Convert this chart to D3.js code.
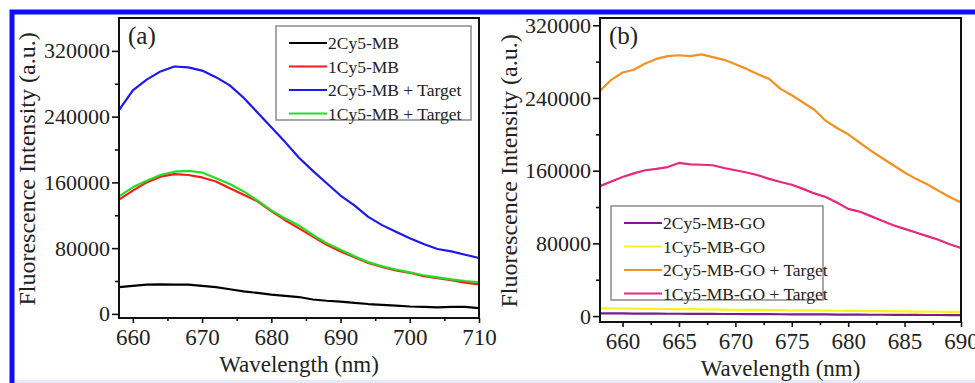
<!DOCTYPE html>
<html>
<head>
<meta charset="utf-8">
<script src="https://cdn.jsdelivr.net/npm/d3@7"></script>
</head>
<body style="margin:0; background:#fff">
<div id="chart"></div>
<script>
// ---- data, panel (a) ----
const wavelengthA = [658, 660, 662, 664, 666, 668, 670, 672, 674, 676, 678, 680, 682, 684,
                     686, 688, 690, 692, 694, 696, 698, 700, 702, 704, 706, 708, 710];
const mb2 = [32500, 34000, 35500, 36000, 35500, 35500, 34000, 32500, 30000, 27500, 25500, 23500, 22000, 20500,
             17500, 16000, 15000, 13500, 12000, 11000, 10000, 9000, 8500, 8000, 8500, 8500, 7000];
const mb1 = [139000, 150000, 160000, 167000, 170000, 169000, 166000, 161000, 153000, 145000, 137000, 125000, 114000, 104000,
             94000, 84000, 76000, 69000, 62000, 57000, 53000, 50000, 46000, 43500, 41000, 38000, 36000];
const mb2Target = [248000, 272000, 285000, 295000, 301000, 300000, 296000, 288000, 278000, 263000, 245000, 227000, 209000, 190000,
                   174000, 159000, 144000, 132000, 118000, 108000, 100000, 92000, 85000, 79000, 76000, 72000, 68000];
const mb1Target = [143000, 154000, 162000, 169000, 173000, 174000, 172000, 165000, 158000, 149000, 138000, 126000, 116000, 107500,
                   96000, 86000, 78000, 70000, 63000, 58000, 54000, 50500, 47000, 44500, 42000, 40000, 38500];
const namesA = ["2Cy5-MB", "1Cy5-MB", "2Cy5-MB + Target", "1Cy5-MB + Target"];
const colorsA = ["#000000", "#ff1a1a", "#1a1aee", "#22dd22"];

// ---- data, panel (b) ----
const wavelengthB = [658, 659, 660, 661, 662, 663, 664, 665, 666, 667, 668, 669, 670, 671, 672, 673, 674,
                     675, 676, 677, 678, 679, 680, 681, 682, 683, 684, 685, 686, 687, 688, 689, 690];
const go2 = [3000, 2900, 2900, 2800, 2800, 2700, 2600, 2600, 2500, 2500, 2400, 2300, 2300, 2200, 2200, 2100, 2000,
             2000, 1900, 1800, 1800, 1700, 1700, 1600, 1500, 1500, 1400, 1300, 1300, 1200, 1200, 1100, 1000];
const go1 = [8500, 8400, 8300, 8200, 8000, 7900, 7800, 7700, 7600, 7400, 7300, 7200, 7000, 6900, 6800, 6700, 6500,
             6400, 6300, 6200, 6000, 5900, 5800, 5600, 5500, 5400, 5200, 5100, 5000, 4900, 4800, 4700, 4600];
const go2Target = [248000, 260000, 268000, 271000, 278000, 283000, 286000, 287000, 286000, 288000, 285000, 282000, 277000, 272000, 266000, 261000, 250000,
                   243000, 235000, 227000, 215000, 207000, 200000, 191000, 182000, 174000, 166000, 158000, 151000, 145000, 138000, 131000, 125000];
const go1Target = [143000, 148000, 153000, 157000, 160500, 162000, 164000, 168500, 167000, 166500, 166000, 163000, 160500, 158000, 155000, 151000, 147500,
                   144500, 140000, 135000, 131000, 125000, 118000, 115000, 110000, 105000, 100000, 96000, 92000, 88000, 84000, 79000, 75000];
const namesB = ["2Cy5-MB-GO", "1Cy5-MB-GO", "2Cy5-MB-GO + Target", "1Cy5-MB-GO + Target"];
const colorsB = ["#7b1c8c", "#f7f21c", "#f39121", "#e6287e"];

// ---- tick values ----
const yMajor = [0, 80000, 160000, 240000, 320000];
const yMinor = [40000, 120000, 200000, 280000];
const xMajorA = [660, 670, 680, 690, 700, 710];
const xMinorA = [665, 675, 685, 695, 705];
const xMajorB = [660, 665, 670, 675, 680, 685, 690];
const xMinorB = [662.5, 667.5, 672.5, 677.5, 682.5, 687.5];

const width = 975;
const height = 383;
const serif = '"Liberation Serif", "Times New Roman", Times, serif';

const svg = d3.select('#chart')
    .append('svg')
    .attr('width', width)
    .attr('height', height)
    .style('display', 'block');

svg.append('rect').attr('width', width).attr('height', height).attr('fill', '#fff');

// blue frame around the figure
svg.append('rect')
    .attr('x', 12).attr('y', 12)
    .attr('width', 1000).attr('height', 400)
    .attr('fill', 'none')
    .attr('stroke', '#0d0dff')
    .attr('stroke-width', 5);
svg.append('rect')
    .attr('x', 15).attr('y', 380)
    .attr('width', width).attr('height', 3)
    .attr('fill', '#e8e8f7');

function drawPanel(p)
{
    const x = d3.scaleLinear().domain(p.xDomain).range([p.left, p.right]);
    const y = d3.scaleLinear().domain(p.yDomain).range([p.bottom, p.top]);

    const g = svg.append('g');

    // curves
    const line = d3.line()
        .x(d => x(d[0]))
        .y(d => y(d[1]));

    p.series.forEach((s, i) => {
        g.append('path')
            .datum(p.wavelength.map((w, j) => [w, s[j]]))
            .attr('fill', 'none')
            .attr('stroke', p.colors[i])
            .attr('stroke-width', 2.2)
            .attr('stroke-linejoin', 'round')
            .attr('d', line);
    });

    // axes
    const yAxis = g.append('g')
        .attr('transform', `translate(${p.left},0)`)
        .call(d3.axisLeft(y).tickValues(yMajor).tickSize(7).tickPadding(2).tickFormat(d3.format('d')));
    g.append('g')
        .attr('transform', `translate(${p.left},0)`)
        .call(d3.axisLeft(y).tickValues(yMinor).tickSize(4).tickFormat(''));

    const xAxis = g.append('g')
        .attr('transform', `translate(0,${p.bottom})`)
        .call(d3.axisBottom(x).tickValues(p.xMajor).tickSize(5).tickPadding(6).tickFormat(d3.format('d')));
    g.append('g')
        .attr('transform', `translate(0,${p.bottom})`)
        .call(d3.axisBottom(x).tickValues(p.xMinor).tickSize(3).tickFormat(''));

    g.selectAll('.domain').remove();
    g.selectAll('.tick line').attr('stroke', '#111').attr('stroke-width', 1.6);
    yAxis.selectAll('text').style('font-size', '22px');
    xAxis.selectAll('text').style('font-size', '23px');

    // plot frame
    g.append('rect')
        .attr('x', p.left).attr('y', p.top)
        .attr('width', p.right - p.left).attr('height', p.bottom - p.top)
        .attr('fill', 'none')
        .attr('stroke', '#111')
        .attr('stroke-width', 2);

    // panel letter
    g.append('text')
        .attr('x', p.left + 9).attr('y', 44)
        .style('font-size', '25px')
        .text(p.letter);

    // axis titles
    g.append('text')
        .attr('x', (p.left + p.right) / 2)
        .attr('y', p.bottom + 54)
        .attr('text-anchor', 'middle')
        .style('font-size', '23px')
        .text('Wavelength (nm)');

    g.append('text')
        .attr('transform', `translate(${p.titleX},${(p.top + p.bottom) / 2 + 1}) rotate(-90)`)
        .attr('text-anchor', 'middle')
        .style('font-size', '24px')
        .text('Fluorescence Intensity (a.u.)');

    // legend
    const lg = g.append('g').attr('transform', `translate(${p.legend.x},${p.legend.y})`);
    lg.append('rect')
        .attr('width', p.legend.w).attr('height', p.legend.h)
        .attr('fill', '#fff')
        .attr('stroke', '#8a8a8a')
        .attr('stroke-width', 1.5);
    p.names.forEach((n, i) => {
        const ry = 17 + i * 23.5;
        lg.append('line')
            .attr('x1', 13).attr('x2', 51)
            .attr('y1', ry).attr('y2', ry)
            .attr('stroke', p.colors[i])
            .attr('stroke-width', 2.2);
        lg.append('text')
            .attr('x', 52).attr('y', ry + 6)
            .style('font-size', '17.5px')
            .text(n);
    });

    g.selectAll('text')
        .style('font-family', serif)
        .attr('fill', '#222');
}

drawPanel({
    letter: '(a)',
    left: 119, right: 479, top: 18, bottom: 318,
    xDomain: [658, 710], yDomain: [-5000, 360000],
    xMajor: xMajorA, xMinor: xMinorA,
    wavelength: wavelengthA,
    series: [mb2, mb1, mb2Target, mb1Target],
    names: namesA, colors: colorsA,
    titleX: 35,
    legend: { x: 276, y: 26, w: 195, h: 94 }
});

drawPanel({
    letter: '(b)',
    left: 600, right: 961, top: 18, bottom: 322,
    xDomain: [658, 690], yDomain: [-6500, 328000],
    xMajor: xMajorB, xMinor: xMinorB,
    wavelength: wavelengthB,
    series: [go2, go1, go2Target, go1Target],
    names: namesB, colors: colorsB,
    titleX: 517,
    legend: { x: 611, y: 206, w: 212, h: 94 }
});
</script>
</body>
</html>
